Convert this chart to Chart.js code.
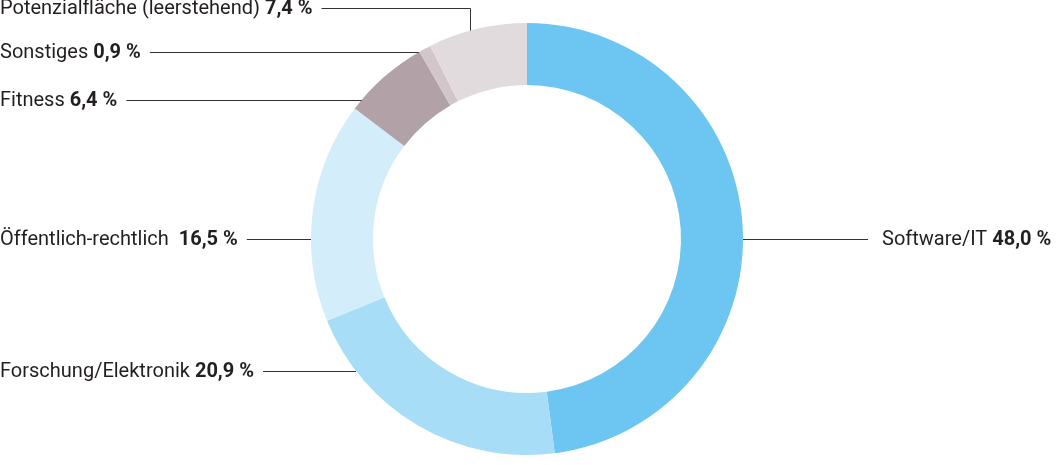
<!DOCTYPE html>
<html><head><meta charset="utf-8">
<script src="https://cdn.jsdelivr.net/npm/chart.js@4/dist/chart.umd.min.js"></script>
<style>html,body{margin:0;padding:0;background:#fff}#wrap{width:1056px;height:465px;position:relative}</style>
</head><body><div id="wrap"><canvas id="c" width="1056" height="465"></canvas></div>
<script>
const categories = ["Software/IT","Forschung/Elektronik","Öffentlich-rechtlich","Fitness","Sonstiges","Potenzialfläche (leerstehend)"];
const shares = [48.0, 20.9, 16.5, 6.4, 0.9, 7.4];
const valueLabels = ["48,0 %","20,9 %","16,5 %","6,4 %","0,9 %","7,4 %"];
const colors = ["#6CC6F1","#A7DDF7","#D3EDFA","#B2A2A7","#D3C6CA","#E1DBDD"];

// label layout: side, label middle y, optional elbow x
const labelLayout = [
  {side:"right", y:239, textX:882},
  {side:"left", y:371},
  {side:"left", y:239, gap:"  "},
  {side:"left", y:100},
  {side:"left", y:52},
  {side:"left", y:8, elbowX:470}
];
const FONT = "Roboto";
const FS = 20;

const labelPlugin = {
  id:"labels",
  afterDraw(chart){
    const ctx = chart.ctx;
    const meta = chart.getDatasetMeta(0);
    const arc0 = meta.data[0];
    const cx = arc0.x, cy = arc0.y, R = arc0.outerRadius;
    ctx.save();
    ctx.textBaseline = "middle";
    ctx.strokeStyle = "#333";
    ctx.lineWidth = 1;
    labelLayout.forEach((L,i)=>{
      const name = categories[i] + (L.gap || " ");
      const val = valueLabels[i];
      ctx.font = `400 ${FS}px ${FONT}`;
      const w1 = ctx.measureText(name).width;
      ctx.font = `700 ${FS}px ${FONT}`;
      const w2 = ctx.measureText(val).width;
      const y = L.y + 0.5;
      const tx = L.side === "left" ? 0 : L.textX;
      ctx.fillStyle = "#231f20";
      ctx.font = `400 ${FS}px ${FONT}`;
      ctx.textAlign = "left";
      ctx.fillText(name, tx, L.y + 1);
      ctx.font = `700 ${FS}px ${FONT}`;
      ctx.fillText(val, tx + w1, L.y + 1);
      ctx.beginPath();
      if (L.side === "left") {
        const x0 = tx + w1 + w2 + 9;
        if (L.elbowX !== undefined) {
          const ex = L.elbowX + 0.5;
          const ey = cy - Math.sqrt(R*R - (L.elbowX - cx)**2);
          ctx.moveTo(x0, y); ctx.lineTo(ex, y); ctx.lineTo(ex, ey);
        } else {
          const dy = cy - L.y;
          const ax = cx - Math.sqrt(Math.max(R*R - dy*dy,0));
          ctx.moveTo(x0, y); ctx.lineTo(ax, y);
        }
      } else {
        const dy = cy - L.y;
        const ax = cx + Math.sqrt(Math.max(R*R - dy*dy,0));
        ctx.moveTo(ax, y); ctx.lineTo(L.textX - 14, y);
      }
      ctx.stroke();
    });
    ctx.restore();
  }
};

new Chart(document.getElementById("c"), {
  type:"doughnut",
  data:{labels:categories, datasets:[{data:shares, backgroundColor:colors, borderWidth:0, hoverOffset:0}]},
  options:{
    responsive:false, animation:false,
    cutout:"71.3%", rotation:0,
    layout:{padding:{top:23,bottom:10,left:0,right:2}},
    plugins:{legend:{display:false}, tooltip:{enabled:false}}
  },
  plugins:[labelPlugin]
});
</script></body></html>
